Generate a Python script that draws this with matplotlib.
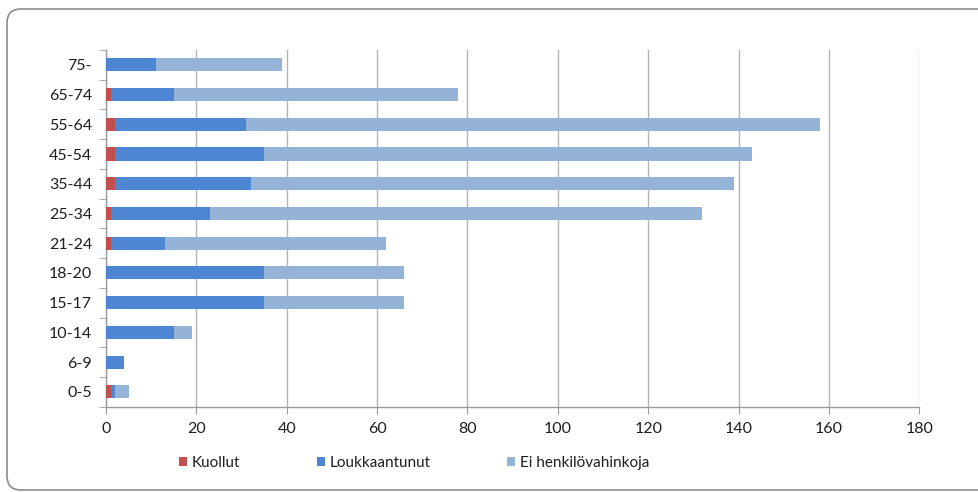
import matplotlib.pyplot as plt
from matplotlib.patches import PathPatch, Patch
from matplotlib.path import Path
import numpy as np

plt.rcParams['font.family'] = ['Lato', 'DejaVu Sans']

# age groups, bottom to top
ages = ['0-5', '6-9', '10-14', '15-17', '18-20', '21-24',
        '25-34', '35-44', '45-54', '55-64', '65-74', '75-']
kuollut = [1, 0, 0, 0, 0, 1, 1, 2, 2, 2, 1, 0]
loukkaantunut = [1, 4, 15, 35, 35, 12, 22, 30, 33, 29, 14, 11]
ei_henkilovahinkoja = [3, 0, 4, 31, 31, 49, 109, 107, 108, 127, 63, 28]

series = [
    ('Kuollut', kuollut, '#C0504D'),
    ('Loukkaantunut', loukkaantunut, '#4F86D4'),
    ('Ei henkilövahinkoja', ei_henkilovahinkoja, '#95B3D7'),
]

fig = plt.figure(figsize=(9.79, 4.92), dpi=100)
ax = fig.add_axes([106 / 979, 1 - 406.7 / 492, (919.3 - 106) / 979, (406.7 - 50) / 492])

y = np.arange(len(ages))
left = np.zeros(len(ages))
handles = []
for name, vals, color in series:
    ax.barh(y, vals, left=left, height=0.44, color=color, zorder=3)
    left += np.array(vals)
    handles.append(Patch(facecolor=color, label=name))

ax.set_xlim(0, 180)
ax.set_ylim(-0.5, len(ages) - 0.5)
ax.set_xticks(range(0, 181, 20))
ax.set_yticks(y)
ax.set_yticklabels(ages)
ax.set_yticks(np.arange(-0.5, len(ages), 1), minor=True)

ax.grid(axis='x', color='#B4B4B4', linewidth=1, zorder=0)
for side in ['top', 'right']:
    ax.spines[side].set_visible(False)
for side in ['left', 'bottom']:
    ax.spines[side].set_color('#9A9A9A')
    ax.spines[side].set_linewidth(1)

ax.tick_params(axis='y', which='major', length=0, pad=10, labelsize=11.5, labelcolor='#1E1E1E')
ax.tick_params(axis='y', which='minor', length=5, color='#9A9A9A')
ax.tick_params(axis='x', length=5, color='#9A9A9A', pad=6, labelsize=11.5, labelcolor='#1E1E1E')

fig.legend(handles=handles, loc='center', bbox_to_anchor=(414 / 979, 1 - 463 / 492),
           ncol=3, frameon=False, fontsize=11, handlelength=0.55, handleheight=0.55,
           handletextpad=0.3, columnspacing=5.0, labelcolor='#1E1E1E')

# chart-area border: rounded on the left, open to the right edge (inches)
x0, x1, yb, yt, r = 0.07, 9.79, 0.02, 4.83, 0.14
verts = [(x1, yt), (x0 + r, yt), (x0, yt), (x0, yt - r),
         (x0, yb + r), (x0, yb), (x0 + r, yb), (x1, yb)]
codes = [Path.MOVETO, Path.LINETO, Path.CURVE3, Path.CURVE3,
         Path.LINETO, Path.CURVE3, Path.CURVE3, Path.LINETO]
border = PathPatch(Path(verts, codes), transform=fig.dpi_scale_trans,
                   facecolor='none', edgecolor='#8C8C8C', linewidth=1.2)
fig.add_artist(border)

fig.savefig('out.png', dpi=100)
